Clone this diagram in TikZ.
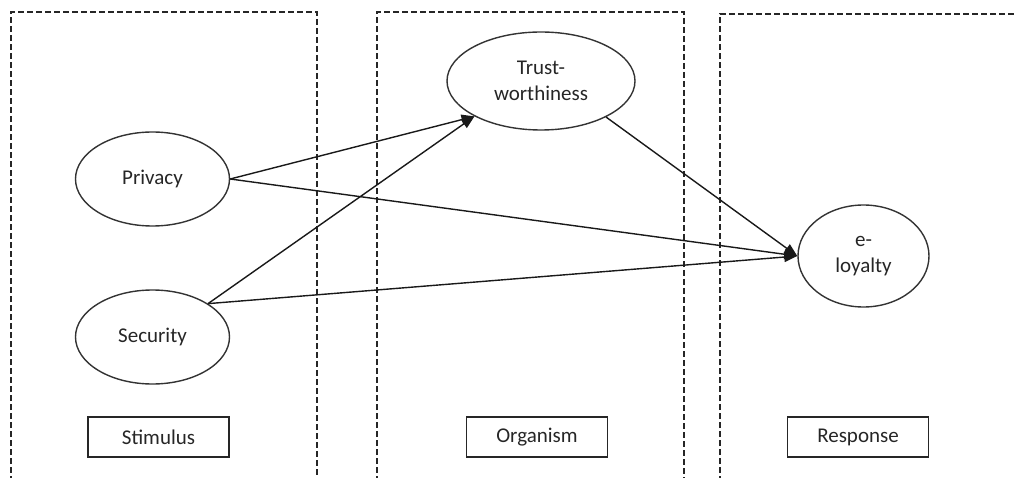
\documentclass[tikz,border=0pt]{standalone}
\usepackage{fontspec}
\setmainfont{Carlito}
\usetikzlibrary{shapes.geometric,arrows.meta}
\begin{document}
\begin{tikzpicture}[x=1pt,y=-1pt,
  every node/.style={font=\fontsize{21}{26}\selectfont, text=black!85},
  construct/.style={ellipse, draw=black!80, line width=1.4pt, inner sep=0pt, align=center},
  stagebox/.style={rectangle, draw=black!85, line width=1.4pt, minimum width=141pt, minimum height=40pt, inner sep=0pt},
  zone/.style={draw=black!85, line width=1.3pt, dash pattern=on 6pt off 3pt},
  link/.style={draw=black!90, line width=1.4pt, -{Triangle[length=13pt,width=10pt]}}
]
\useasboundingbox (0,0) rectangle (1014,478);
\clip (0,0) rectangle (1014,478);

% dashed zones
\draw[zone] (11,500) -- (11,12) -- (317,12) -- (317,500);
\draw[zone] (377,500) -- (377,12) -- (684,12) -- (684,500);
\draw[zone] (720,500) -- (720,14) -- (1030,14);

% constructs
\node[construct, minimum width=154pt, minimum height=94pt] (privacy) at (152.5,179) {Privacy};
\node[construct, minimum width=154pt, minimum height=94pt] (security) at (152.5,337) {Security};
\node[construct, minimum width=188pt, minimum height=98pt] (trust) at (541,81) {Trust-\\worthiness};
\node[construct, minimum width=131pt, minimum height=102pt] (loyalty) at (863.5,256) {e-\\loyalty};

% stage labels
\node[stagebox] (stimulus) at (158.5,437) {Stimulus};
\node[stagebox] (organism) at (537,437) {Organism};
\node[stagebox] (response) at (858,437) {Response};

% paths
\draw[link] (privacy.east) -- (trust.208);
\draw[link] (privacy.east) -- (loyalty.west);
\draw[link] (security.31) -- (trust.208);
\draw[link] (security.31) -- (loyalty.west);
\draw[link] (trust.331) -- (loyalty.west);
\end{tikzpicture}
\end{document}
